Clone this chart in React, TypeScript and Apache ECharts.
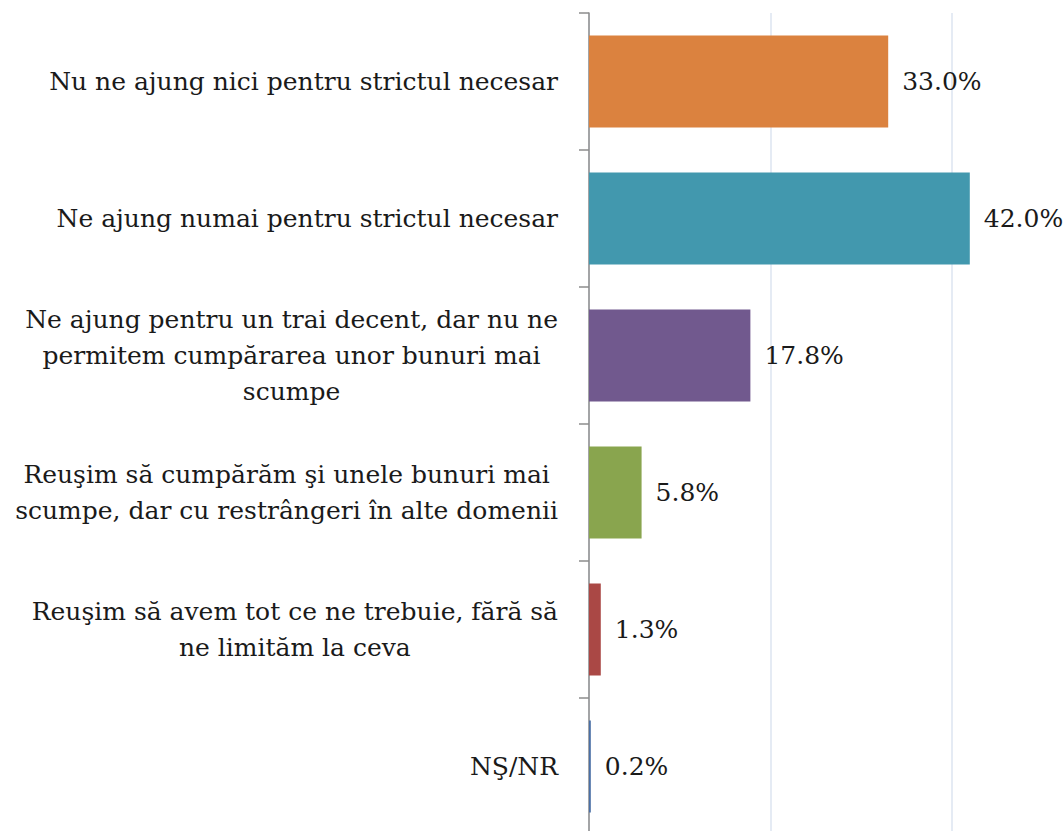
import React, { useEffect, useRef } from "react";
import * as echarts from "echarts";

const categories = [
  "Nu ne ajung nici pentru strictul necesar",
  "Ne ajung numai pentru strictul necesar",
  "Ne ajung pentru un trai decent, dar nu ne\npermitem cumpărarea unor bunuri mai\nscumpe",
  "Reuşim să cumpărăm şi unele bunuri mai\nscumpe, dar cu restrângeri în alte domenii",
  "Reuşim să avem tot ce ne trebuie, fără să\nne limităm la ceva",
  "NŞ/NR",
];
const values = [33.0, 42.0, 17.8, 5.8, 1.3, 0.2];
const colors = ["#DB823F", "#4298AE", "#71598E", "#89A54E", "#AA4845", "#4A6FA5"];

const FONT = "DejaVu Serif";
const FS = 25;

export default function App() {
  const ref = useRef<HTMLDivElement>(null);
  useEffect(() => {
    if (!ref.current) return;
    const chart = echarts.init(ref.current, undefined, { renderer: "svg" });
    chart.setOption({
      animation: false,
      grid: { left: 589, top: 13, right: -69, bottom: -4, outerBoundsMode: "none", containLabel: false },
      xAxis: {
        type: "value",
        min: 0,
        max: 60,
        interval: 20,
        axisLabel: { show: false },
        axisLine: { show: false },
        axisTick: { show: false },
        splitLine: { show: true, lineStyle: { color: "#DDE5F0", width: 1.5 } },
      },
      yAxis: {
        type: "category",
        inverse: true,
        data: categories,
        axisLine: { show: true, lineStyle: { color: "#8C8C8C", width: 1.5 } },
        axisTick: { show: true, length: 10, lineStyle: { color: "#8C8C8C", width: 1.5 } },
        axisLabel: {
          margin: 31,
          formatter: (v: string) =>
            v
              .split("\n")
              .map((l) => `{c|${l}}`)
              .join("\n"),
          rich: {
            c: {
              align: "center",
              fontFamily: FONT,
              fontSize: FS,
              lineHeight: 36,
              color: "#1A1A1A",
            },
          },
        },
      },
      series: [
        {
          type: "bar",
          data: values.map((v, i) => ({ value: v, itemStyle: { color: colors[i] } })),
          barCategoryGap: "33%",
          label: {
            show: true,
            position: "right",
            distance: 14,
            formatter: (p: any) => `${p.value.toFixed(1)}%`,
            fontFamily: FONT,
            fontSize: FS,
            color: "#1A1A1A",
          },
        },
      ],
    });
    return () => chart.dispose();
  }, []);
  return (
    <div
      ref={ref}
      style={{ position: "fixed", left: 0, top: 0, width: 1064, height: 831, background: "#fff" }}
    />
  );
}
